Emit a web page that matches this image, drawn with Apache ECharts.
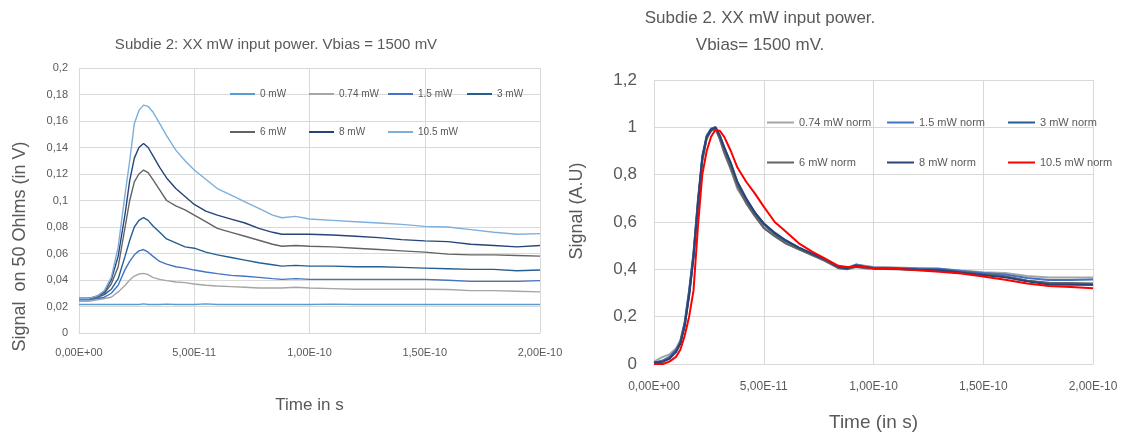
<!DOCTYPE html>
<html>
<head>
<meta charset="utf-8">
<script src="https://cdn.jsdelivr.net/npm/echarts@6/dist/echarts.min.js"></script>
<style>
html,body{margin:0;padding:0;background:#fff;}
#c{width:1128px;height:439px;}
</style>
</head>
<body>
<div id="c"></div>
<script>
// ---- Left chart data (time in ps, signal in V) ----
const timeLeft = [0,4,8,11,14,17,20,22,24,26,28,30,32,35,38,42,46,50,55,60,66,72,78,84,88,94,100,110,120,130,140,150,160,170,180,190,200];
const p0   = [0.0215,0.0215,0.0215,0.0215,0.0215,0.0215,0.0215,0.0215,0.0215,0.0215,0.022,0.0215,0.0215,0.0215,0.0218,0.0215,0.0215,0.0215,0.022,0.0215,0.0215,0.0215,0.0215,0.0215,0.0215,0.0215,0.0215,0.0218,0.0215,0.0215,0.0215,0.0215,0.0215,0.0215,0.0215,0.0215,0.0215];
const p074 = [0.024,0.024,0.025,0.026,0.027,0.031,0.036,0.04,0.043,0.0445,0.045,0.044,0.042,0.0405,0.0395,0.0385,0.038,0.037,0.036,0.0355,0.035,0.0345,0.034,0.034,0.034,0.0345,0.034,0.0335,0.033,0.033,0.033,0.033,0.0328,0.032,0.032,0.0315,0.031];
const p15  = [0.025,0.025,0.026,0.027,0.03,0.036,0.048,0.054,0.059,0.062,0.063,0.061,0.058,0.054,0.052,0.05,0.049,0.0475,0.046,0.0448,0.0435,0.0428,0.042,0.041,0.0405,0.041,0.0405,0.0405,0.0405,0.0405,0.0405,0.0405,0.0398,0.039,0.039,0.039,0.0395];
const p3   = [0.026,0.026,0.027,0.029,0.033,0.041,0.058,0.07,0.08,0.085,0.087,0.085,0.081,0.076,0.071,0.068,0.065,0.064,0.061,0.059,0.057,0.055,0.053,0.0515,0.0505,0.051,0.0505,0.0505,0.05,0.05,0.0495,0.049,0.0485,0.048,0.048,0.047,0.0475];
const p6   = [0.026,0.026,0.027,0.03,0.037,0.05,0.08,0.1,0.114,0.12,0.123,0.121,0.116,0.108,0.1,0.096,0.093,0.089,0.084,0.079,0.076,0.073,0.07,0.067,0.0655,0.066,0.0655,0.065,0.064,0.063,0.062,0.061,0.0595,0.059,0.059,0.0585,0.058];
const p8   = [0.026,0.026,0.028,0.031,0.04,0.058,0.09,0.115,0.132,0.14,0.143,0.14,0.134,0.125,0.117,0.109,0.103,0.097,0.092,0.089,0.086,0.083,0.079,0.076,0.0745,0.0745,0.0745,0.074,0.073,0.072,0.0705,0.0695,0.069,0.067,0.066,0.065,0.066];
const p105 = [0.026,0.026,0.028,0.032,0.042,0.065,0.105,0.13,0.158,0.168,0.172,0.171,0.167,0.158,0.149,0.138,0.13,0.123,0.116,0.109,0.104,0.099,0.094,0.089,0.087,0.088,0.086,0.085,0.084,0.083,0.082,0.0805,0.08,0.078,0.076,0.0745,0.075];
const namesLeft = ['0 mW','0.74 mW','1.5 mW','3 mW','6 mW','8 mW','10.5 mW'];
const yTicksLeft = ['0','0,02','0,04','0,06','0,08','0,1','0,12','0,14','0,16','0,18','0,2'];

// ---- Right chart data (time in ps, normalized signal) ----
const timeRight = [0,4,7,10,12,14,16,18,20,22,24,26,28,30,32,35,38,42,46,50,55,60,66,72,78,84,88,92,96,100,110,120,130,140,150,160,170,180,190,200];
const n074 = [0.01,0.03,0.04,0.065,0.1,0.18,0.31,0.47,0.69,0.86,0.95,0.985,0.995,0.95,0.89,0.82,0.74,0.68,0.625,0.575,0.54,0.51,0.485,0.46,0.437,0.41,0.405,0.42,0.415,0.41,0.408,0.405,0.403,0.395,0.388,0.385,0.372,0.365,0.365,0.365];
const n15  = [0.005,0.015,0.03,0.06,0.095,0.175,0.31,0.47,0.69,0.88,0.965,0.995,1.0,0.965,0.915,0.845,0.765,0.695,0.64,0.59,0.55,0.52,0.492,0.466,0.44,0.41,0.407,0.42,0.413,0.408,0.406,0.404,0.402,0.393,0.385,0.378,0.363,0.355,0.355,0.357];
const n3   = [0.005,0.01,0.025,0.055,0.09,0.17,0.3,0.46,0.68,0.87,0.96,0.99,1.0,0.96,0.91,0.84,0.76,0.69,0.635,0.59,0.55,0.52,0.49,0.463,0.44,0.41,0.405,0.415,0.41,0.405,0.403,0.4,0.398,0.388,0.378,0.37,0.352,0.34,0.338,0.335];
const n6   = [0.005,0.012,0.025,0.055,0.09,0.165,0.29,0.45,0.67,0.86,0.955,0.985,0.995,0.95,0.895,0.825,0.75,0.68,0.625,0.575,0.54,0.51,0.485,0.46,0.435,0.405,0.4,0.41,0.405,0.402,0.4,0.397,0.395,0.386,0.378,0.37,0.352,0.343,0.342,0.34];
const n8   = [0.005,0.01,0.022,0.05,0.085,0.16,0.29,0.45,0.67,0.87,0.96,0.99,1.0,0.965,0.915,0.85,0.77,0.7,0.64,0.595,0.555,0.523,0.492,0.466,0.442,0.41,0.405,0.415,0.41,0.404,0.402,0.398,0.396,0.386,0.376,0.366,0.35,0.336,0.335,0.335];
const n105 = [0.0,0.0,0.01,0.03,0.06,0.12,0.2,0.31,0.58,0.8,0.9,0.96,0.99,0.985,0.96,0.9,0.83,0.77,0.72,0.665,0.6,0.56,0.51,0.475,0.445,0.415,0.41,0.41,0.41,0.405,0.402,0.396,0.39,0.382,0.37,0.356,0.34,0.33,0.325,0.32];
const namesRight = ['0.74 mW norm','1.5 mW norm','3 mW norm','6 mW norm','8 mW norm','10.5 mW norm'];
const yTicksRight = ['0','0,2','0,4','0,6','0,8','1','1,2'];

const xTicks = ['0,00E+00','5,00E-11','1,00E-10','1,50E-10','2,00E-10'];

// ---- build ----
const FONT = 'Liberation Sans';
const TXT = '#595959';
const GRID = '#d9d9d9';
const leftVals = [p0,p074,p15,p3,p6,p8,p105];
const leftColors = ['#5B9BD5','#A5A5A5','#4472C4','#255E91','#636363','#264478','#7CAFDD'];
const rightVals = [n074,n15,n3,n6,n8,n105];
const rightColors = ['#A5A5A5','#4472C4','#255E91','#636363','#264478','#FF0000'];

const series = [];
leftVals.forEach((vals,i)=>{
  series.push({name:namesLeft[i],type:'line',xAxisIndex:0,yAxisIndex:0,symbol:'none',
    lineStyle:{width:1.4,color:leftColors[i]},itemStyle:{color:leftColors[i]},
    data:timeLeft.map((t,k)=>[t,vals[k]])});
});
rightVals.forEach((vals,i)=>{
  series.push({name:namesRight[i],type:'line',xAxisIndex:1,yAxisIndex:1,symbol:'none',
    lineStyle:{width:2,color:rightColors[i]},itemStyle:{color:rightColors[i]},
    data:timeRight.map((t,k)=>[t,vals[k]])});
});

const legPosLeft = [[230,93],[309,93],[388,93],[467,93],[230,131],[309,131],[388,131]];
const legPosRight = [[767,122],[887,122],[1008,122],[767,162],[887,162],[1008,162]];
const legends = [];
namesLeft.forEach((n,i)=>legends.push({data:[n],left:legPosLeft[i][0],top:legPosLeft[i][1]-4,icon:'rect',itemWidth:25,itemHeight:2,itemGap:0,padding:0,
  textStyle:{fontFamily:FONT,fontSize:10,color:TXT}}));
namesRight.forEach((n,i)=>legends.push({data:[n],left:legPosRight[i][0],top:legPosRight[i][1]-5,icon:'rect',itemWidth:27,itemHeight:2,itemGap:0,padding:0,
  textStyle:{fontFamily:FONT,fontSize:11,color:TXT}}));

function xAxis(gi, fs, margin, name, nfs, ngap){
  return {type:'value',gridIndex:gi,min:0,max:200,interval:50,
    axisLine:{show:true,lineStyle:{color:GRID}},axisTick:{show:false},
    splitLine:{show:true,lineStyle:{color:GRID,width:1}},
    axisLabel:{fontFamily:FONT,fontSize:fs,color:TXT,margin:margin,formatter:v=>xTicks[Math.round(v/50)]},
    name:name,nameLocation:'middle',nameGap:ngap,nameTextStyle:{fontFamily:FONT,fontSize:nfs,color:TXT}};
}
const chart = echarts.init(document.getElementById('c'),null,{renderer:'canvas'});
chart.setOption({
  animation:false,
  backgroundColor:'#fff',
  title:[
    {text:'Subdie 2: XX mW input power. Vbias = 1500 mV',left:276,top:37,padding:0,textAlign:'center',
      textStyle:{fontFamily:FONT,fontSize:15,fontWeight:'normal',color:TXT}},
    {text:'Subdie 2. XX mW input power.\nVbias= 1500 mV.',left:760,top:5,padding:0,textAlign:'center',
      textStyle:{fontFamily:FONT,fontSize:17,fontWeight:'normal',color:TXT,lineHeight:27,align:'center'}}
  ],
  legend:legends,
  grid:[
    {left:79,top:68,width:461,height:265,outerBoundsMode:'none',containLabel:false},
    {left:654,top:80,width:439,height:284,outerBoundsMode:'none',containLabel:false}
  ],
  xAxis:[
    xAxis(0,11,14,'Time in s',17,64),
    xAxis(1,12,17,'Time (in s)',19,49)
  ],
  yAxis:[
    {type:'value',gridIndex:0,min:0,max:0.2,interval:0.02,
      axisLine:{show:false},axisTick:{show:false},
      splitLine:{show:true,lineStyle:{color:GRID}},
      axisLabel:{fontFamily:FONT,fontSize:11,color:TXT,margin:11,formatter:v=>yTicksLeft[Math.round(v/0.02)]},
      name:'Signal  on 50 Ohlms (in V)',nameLocation:'middle',nameGap:50,
      nameTextStyle:{fontFamily:FONT,fontSize:18,color:TXT,padding:[0,92,0,0]}},
    {type:'value',gridIndex:1,min:0,max:1.2,interval:0.2,
      axisLine:{show:false},axisTick:{show:false},
      splitLine:{show:true,lineStyle:{color:GRID}},
      axisLabel:{fontFamily:FONT,fontSize:17,color:TXT,margin:17,formatter:v=>yTicksRight[Math.round(v/0.2)]},
      name:'Signal (A.U)',nameLocation:'middle',nameGap:68,
      nameTextStyle:{fontFamily:FONT,fontSize:18,color:TXT,padding:[0,0,0,22]}}
  ],
  series:series
});
</script>
</body>
</html>
